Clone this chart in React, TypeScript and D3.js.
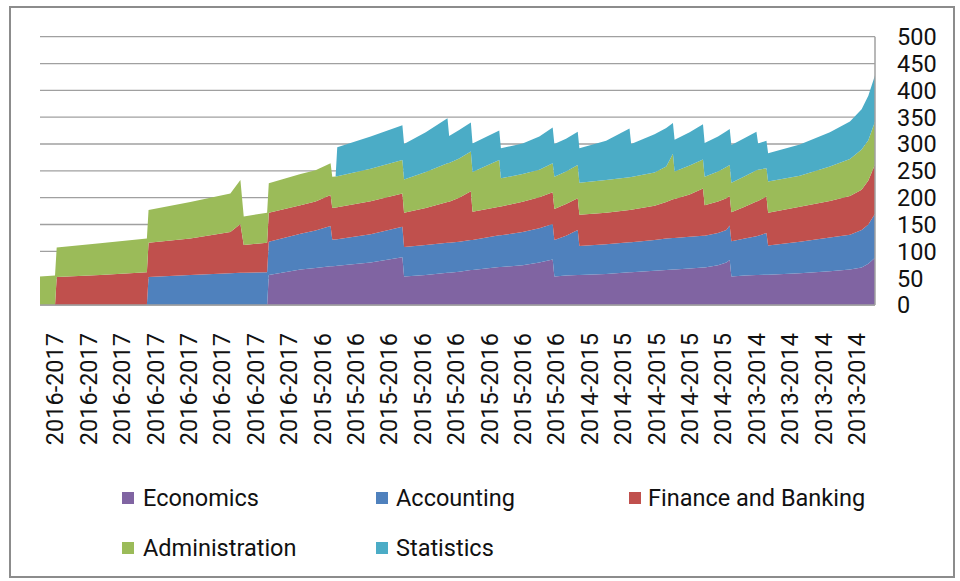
import React from "react";
import * as d3 from "d3";

// Row (category) positions of the sampled points, 0..500 across the axis
const rows = [0, 9, 10, 36, 64, 65, 90, 114, 120, 122, 136, 137, 156, 165, 174, 175, 177, 178, 198, 217, 218, 231, 244, 245, 251, 258, 259, 275, 276, 289, 299, 307, 308, 315, 322, 323, 339, 353, 354, 368, 375, 379, 380, 389, 397, 398, 406, 411, 413, 414, 422, 429, 430, 435, 436, 455, 473, 485, 492, 496, 500];

const economics = [0, 0, 0, 0, 0, 0, 0, 0, 0, 0, 0, 56, 66, 69, 72, 72, 72.5, 73, 79, 89, 53, 56, 60, 60, 62, 65, 65, 71, 71, 74, 79, 85, 53, 55, 56, 56, 58, 61, 61, 64, 65, 66, 66, 68, 70, 70, 74, 79, 84, 53, 55, 56, 56, 56.5, 56.5, 59, 63, 66, 70, 77, 88];
const accounting = [0, 0, 0, 0, 0, 52, 56, 59, 60, 60, 61, 62, 67, 70, 75, 50, 49.5, 49.5, 53, 57, 55, 56, 56, 56, 56, 56, 56, 59, 59, 62, 64, 66, 68, 74, 84, 54, 55, 56, 56, 57, 59, 59, 59, 59, 59, 59, 60, 61, 64, 66, 69, 72, 73, 77.5, 54.5, 59, 63, 65, 70, 73, 82];
const finance = [0, 0, 52, 56, 61, 64, 68, 77, 91, 52, 55, 54, 53, 54, 58, 59, 59.5, 59.5, 61.5, 62, 64, 69, 76, 76.5, 82, 91, 53, 53, 53.5, 56.5, 58, 59, 58, 59, 59, 58, 59, 60, 60.5, 64, 68, 72, 72.5, 79, 88, 57, 59, 59, 55, 54, 59, 65, 65, 68, 61, 65, 68, 72, 75, 82, 92];
const administration = [53, 55, 55, 59, 63, 61, 68, 72, 82, 53, 56, 55, 58, 58, 59, 58, 58, 58, 60.5, 62, 62, 67, 72, 72, 73, 74, 74, 87, 52.5, 51.5, 51, 54, 60, 61, 62, 60, 61, 61, 61, 62, 66, 85, 51.5, 54, 54, 53, 56, 58, 58, 55, 57, 58, 58, 53, 58, 58, 64, 69, 75, 75, 80];
const statistics = [0, 0, 0, 0, 0, 0, 0, 0, 0, 0, 0, 0, 0, 0, 0, 0, 0, 54, 60, 65, 66, 74, 84, 50.5, 53, 54, 53, 55, 56, 57, 62, 67, 61, 61, 62, 64, 73, 91, 61.5, 71, 72, 57, 59, 62, 66, 63, 65, 67, 67, 70, 71, 72, 49, 51, 53, 58, 64, 70, 75, 83, 86];

const seriesNames = ["Economics", "Accounting", "Finance and Banking", "Administration", "Statistics"];
const seriesColors = ["#8064A2", "#4F81BD", "#C0504D", "#9BBB59", "#4BACC6"];
const seriesValues = [economics, accounting, finance, administration, statistics];

const tickLabels = [
  "2016-2017", "2016-2017", "2016-2017", "2016-2017", "2016-2017", "2016-2017", "2016-2017", "2016-2017",
  "2015-2016", "2015-2016", "2015-2016", "2015-2016", "2015-2016", "2015-2016", "2015-2016", "2015-2016",
  "2014-2015", "2014-2015", "2014-2015", "2014-2015", "2014-2015",
  "2013-2014", "2013-2014", "2013-2014", "2013-2014",
];

const FONT = "Roboto, 'Liberation Sans', sans-serif";

export default function App() {
  const W = 960, H = 581;
  const left = 40, right = 875, bottom = 305, top = 36.7;
  const x = d3.scaleLinear().domain([0, 500]).range([left, right]);
  const y = d3.scaleLinear().domain([0, 500]).range([bottom, top]);

  const table = rows.map((r, i) => {
    const o: any = { r };
    seriesNames.forEach((n, k) => (o[n] = seriesValues[k][i]));
    return o;
  });
  const stacked = d3.stack<any>().keys(seriesNames)(table);
  const area = d3
    .area<any>()
    .x((d) => x(d.data.r))
    .y0((d) => y(d[0]))
    .y1((d) => y(d[1]))
    .curve(d3.curveLinear);

  const yTicks = y.ticks(10);
  const labelStep = 20, labelOffset = 9;

  const legend = [
    { i: 0, mx: 122, tx: 143, cy: 498 },
    { i: 1, mx: 376, tx: 396, cy: 498 },
    { i: 2, mx: 629, tx: 648, cy: 498 },
    { i: 3, mx: 122, tx: 143, cy: 548 },
    { i: 4, mx: 376, tx: 396, cy: 548 },
  ];

  return (
    <svg width={W} height={H} style={{ position: "absolute", left: 0, top: 0, background: "#fff" }} fontFamily={FONT}>
      <rect x={10} y={7} width={944} height={570} fill="#fff" stroke="#8c8c8c" strokeWidth={2} />
      {yTicks.map((t) => (
        <line key={"g" + t} x1={left} x2={right} y1={y(t)} y2={y(t)} stroke="#a0a0a0" strokeWidth={1.3} />
      ))}
      {stacked.map((s, k) => (
        <path key={s.key} d={area(s) || ""} fill={seriesColors[k]} stroke="none" />
      ))}
      <line x1={left} x2={right} y1={bottom} y2={bottom} stroke="#a0a0a0" strokeWidth={1.5} />
      <line x1={right} x2={right} y1={top} y2={bottom} stroke="#a0a0a0" strokeWidth={1.5} />
      {yTicks.map((t) => (
        <text key={"y" + t} x={897} y={y(t)} dy="0.36em" fontSize={23.5} fill="#111">
          {t}
        </text>
      ))}
      {tickLabels.map((lab, j) => {
        const cx = x(j * labelStep + labelOffset);
        return (
          <text key={"x" + j} transform={`translate(${cx},333) rotate(-90)`} textAnchor="end" dy="0.36em" fontSize={23.5} fill="#111">
            {lab}
          </text>
        );
      })}
      {legend.map((l) => (
        <g key={"l" + l.i}>
          <rect x={l.mx} y={l.cy - 6} width={12} height={12} fill={seriesColors[l.i]} />
          <text x={l.tx} y={l.cy} dy="0.36em" fontSize={23.5} fill="#111">
            {seriesNames[l.i]}
          </text>
        </g>
      ))}
    </svg>
  );
}
